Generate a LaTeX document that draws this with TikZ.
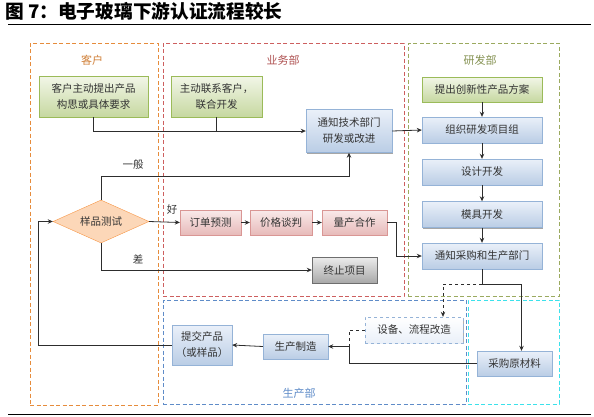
\documentclass[tikz,border=0pt]{standalone}
\usepackage{fontspec}
\setmainfont{Noto Sans CJK SC}
\definecolor{idealine}{RGB}{155,187,89}
\definecolor{ideatop}{RGB}{242,246,232}
\definecolor{ideabot}{RGB}{198,216,160}
\definecolor{taskline}{RGB}{149,179,215}
\definecolor{tasktop}{RGB}{234,240,249}
\definecolor{taskbot}{RGB}{186,205,229}
\definecolor{dealline}{RGB}{217,150,148}
\definecolor{dealtop}{RGB}{249,234,234}
\definecolor{dealbot}{RGB}{231,186,185}
\definecolor{haltline}{RGB}{110,110,110}
\definecolor{halttop}{RGB}{236,236,236}
\definecolor{haltbot}{RGB}{168,168,168}
\definecolor{testline}{RGB}{247,150,70}
\definecolor{testfill}{RGB}{252,215,184}
\definecolor{custcol}{RGB}{230,140,60}
\definecolor{salescol}{RGB}{205,95,95}
\definecolor{rdcol}{RGB}{155,170,95}
\definecolor{prodcol}{RGB}{95,140,200}
\definecolor{buycol}{RGB}{60,225,235}
\definecolor{wirecol}{RGB}{45,45,45}
\usepackage{tikz}
\usetikzlibrary{shapes.geometric, arrows.meta, positioning, shadows}
\usepackage{xcolor}
\tikzset{
    boxshadow/.style={drop shadow={shadow xshift=1.3pt, shadow yshift=-1.3pt, opacity=0.35, fill=black}},
    idea/.style={rectangle, draw=idealine, top color=ideatop, bottom color=ideabot, boxshadow, align=center, inner sep=1pt, font=\fontsize{10.5}{16}\selectfont, text=black!80},
    task/.style={rectangle, draw=taskline, top color=tasktop, bottom color=taskbot, boxshadow, align=center, inner sep=1pt, minimum width=120pt, minimum height=26pt, font=\fontsize{10.5}{16}\selectfont, text=black!80},
    deal/.style={rectangle, draw=dealline, top color=dealtop, bottom color=dealbot, boxshadow, align=center, inner sep=1pt, minimum height=25pt, font=\fontsize{10.5}{16}\selectfont, text=black!80},
    halt/.style={rectangle, draw=haltline, top color=halttop, bottom color=haltbot, boxshadow, align=center, inner sep=1pt, font=\fontsize{10.5}{16}\selectfont, text=black!80},
    optional/.style={rectangle, draw=taskline, dashed, top color=white, bottom color=tasktop, boxshadow, align=center, inner sep=1pt, font=\fontsize{10.5}{16}\selectfont, text=black!80},
    decision/.style={diamond, aspect=2.2, draw=testline, fill=testfill, inner sep=0pt, minimum width=96pt, minimum height=43pt, font=\fontsize{10.5}{16}\selectfont, text=black!80},
    arrow/.style={line width=0.8pt, wirecol, -{Stealth[length=5pt, width=4.5pt]}},
    plainline/.style={line width=0.8pt, wirecol},
    dashedarrow/.style={line width=0.7pt, wirecol, dashed, -{Stealth[length=5pt, width=4.5pt]}},
    dashedline/.style={line width=0.7pt, wirecol, dashed},
    container/.style={rectangle, draw=#1, line width=1pt, dash pattern=on 4pt off 2.5pt, inner sep=0pt},
    grouplabel/.style={font=\fontsize{11}{13}\selectfont, inner sep=0pt},
    branchlabel/.style={font=\fontsize{10.5}{13}\selectfont, inner sep=0pt, text=black!80}
}

\begin{document}
\begin{tikzpicture}[x=1pt, y=-1pt]
    \useasboundingbox (0,0) rectangle (594,416);

    % Title
    \node[anchor=west, inner sep=0pt, font=\fontsize{18.7}{20}\selectfont\bfseries] (title) at (5,11) {图 7：电子玻璃下游认证流程较长};
    \draw[line width=1.3pt] (8,24.5) -- (591,24.5);
    \draw[line width=1pt] (8,414) -- (591,414);

    % Departments
    \node[container=custcol, minimum width=128pt, minimum height=362pt] (custbox) at (94,224) {};
    \node[container=salescol, minimum width=241pt, minimum height=253pt] (salesbox) at (283.5,169.5) {};
    \node[container=rdcol, minimum width=151pt, minimum height=253pt] (rdbox) at (483.5,169.5) {};
    \node[container=prodcol, minimum width=303pt, minimum height=104pt] (prodbox) at (314.5,352) {};
    \node[container=buycol, minimum width=91pt, minimum height=104pt] (buybox) at (513.5,352) {};

    \node[grouplabel, text=custcol!90!black] (custlabel) at (92,60) {客户};
    \node[grouplabel, text=salescol!85!black] (saleslabel) at (283,60) {业务部};
    \node[grouplabel, text=rdcol!85!black] (rdlabel) at (480,60) {研发部};
    \node[grouplabel, text=prodcol] (prodlabel) at (299,393) {生产部};

    % Customer and sales
    \node[idea, minimum width=109pt, minimum height=41pt] (cusidea) at (93.5,96.5) {客户主动提出产品\\构思或具体要求};
    \node[idea, minimum width=91pt, minimum height=41pt] (contact) at (216.5,96.5) {主动联系客户，\\联合开发};
    \node[task, minimum width=86pt, minimum height=43pt] (notify) at (349,131) {通知技术部门\\研发或改进};
    \node[decision] (test) at (101,221.5) {样品测试};
    \node[deal, minimum width=61pt] (forecast) at (210.5,222.5) {订单预测};
    \node[deal, minimum width=62pt] (price) at (281,222.5) {价格谈判};
    \node[deal, minimum width=65pt] (mass) at (354.5,222.5) {量产合作};
    \node[halt, minimum width=65pt, minimum height=26pt] (stop) at (344.5,270) {终止项目};

    % R&D
    \node[idea, minimum width=120pt, minimum height=25pt] (scheme) at (482,89.5) {提出创新性产品方案};
    \node[task] (team) at (482,130) {组织研发项目组};
    \node[task] (design) at (482,172) {设计开发};
    \node[task] (mould) at (482,214.5) {模具开发};
    \node[task] (inform) at (482,256) {通知采购和生产部门};

    % Production and purchasing
    \node[optional, minimum width=98pt, minimum height=26pt] (equip) at (414,330) {设备、流程改造};
    \node[task, minimum width=75pt, minimum height=25pt] (purchase) at (514.5,363.5) {采购原材料};
    \node[task, minimum width=65pt, minimum height=25pt] (make) at (295.5,346.5) {生产制造};
    \node[task, minimum width=60pt, minimum height=40pt] (submit) at (202,345) {提交产品\\（或样品）};

    \coordinate (split) at (482,284);
    \coordinate (merge) at (349,346.5);

    % Arrows
    \draw[arrow] (cusidea.south) |- (notify.west);
    \draw[plainline] (contact.south) -- (contact.south |- notify.west);
    \draw[arrow] (notify.east) -- (team.west);
    \draw[arrow] (scheme) -- (team);
    \draw[arrow] (team) -- (design);
    \draw[arrow] (design) -- (mould);
    \draw[arrow] (mould) -- (inform);
    \draw[arrow] (test.north) -- ++(0,-23) -| (notify.south);
    \draw[arrow] (test.east) -- (forecast.west);
    \draw[arrow] (forecast) -- (price);
    \draw[arrow] (price) -- (mass);
    \draw[arrow] (mass.east) -- ++(9,0) |- (inform.west);
    \draw[arrow] (test.south) |- (stop.west);
    \draw[plainline] (inform.south) -- (split);
    \draw[arrow] (split) -| ([xshift=7pt]purchase.north);
    \draw[dashedarrow] (split) -| ([xshift=29pt]equip.north);
    \draw[arrow] (purchase.west) -| (merge) -- (make.east);
    \draw[dashedline] (equip.west) -| (merge);
    \draw[arrow] (make.west) -- (submit.east);
    \draw[arrow] (submit.west) -- ++(-133,0) |- (test.west);

    % Branch labels
    \node[branchlabel] (general) at (133,165) {一般};
    \node[branchlabel] (good) at (172,210) {好};
    \node[branchlabel] (bad) at (138,259) {差};
\end{tikzpicture}
\end{document}
